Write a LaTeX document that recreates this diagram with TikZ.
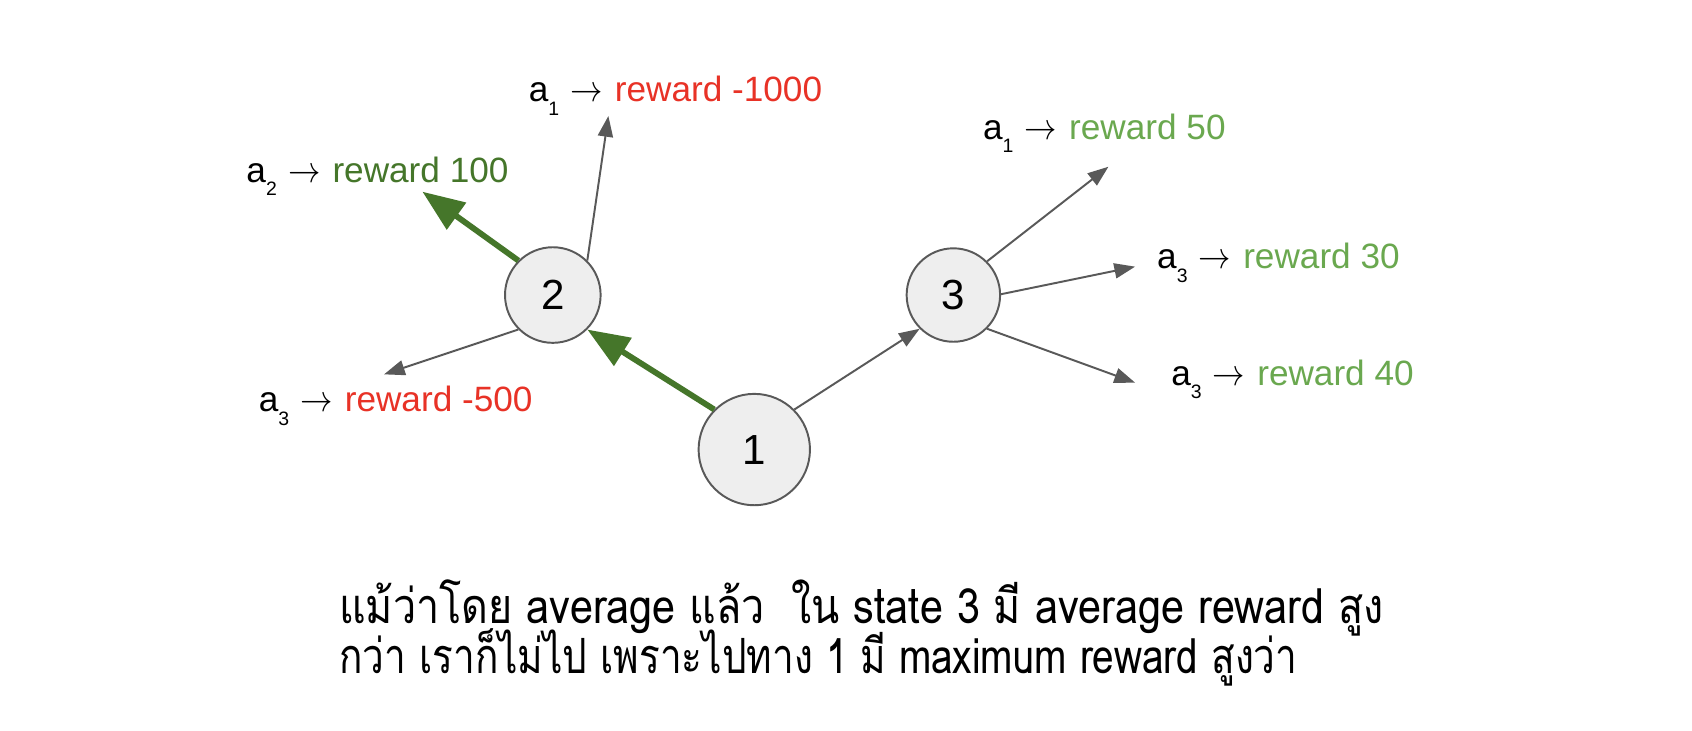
\documentclass[tikz,border=0pt]{standalone}
\usepackage{fontspec}
\setmainfont{Liberation Sans}
\newfontfamily\thaifont[Script=Thai]{Loma}
\usetikzlibrary{shapes.geometric,arrows.meta}
\definecolor{edgegray}{RGB}{89,89,89}
\definecolor{nodefill}{RGB}{238,238,238}
\definecolor{rwred}{RGB}{232,50,38}
\definecolor{rwdark}{RGB}{69,118,42}
\definecolor{rwlight}{RGB}{106,168,79}
\newcommand{\lblfont}{\fontsize{16.3pt}{19pt}\selectfont}
\newcommand{\sbs}[1]{\raisebox{-6.2pt}{\fontsize{9pt}{9pt}\selectfont #1}}
\newcommand{\rarr}{\hspace{5.2pt}\resizebox{15pt}{\height}{$\rightarrow$}\hspace{5.6pt}}
\tikzset{
  stnode/.style={circle, draw=edgegray, fill=nodefill, line width=0.9pt, inner sep=0pt,
    font=\fontsize{19.5pt}{22pt}\selectfont},
  thinarr/.style={draw=edgegray, line width=0.9pt, -{Triangle[length=9.6pt,width=7pt]}},
  thickarr/.style={draw=rwdark, line width=2.7pt, -{Triangle[length=19.5pt,width=14.8pt]}},
  lbl/.style={anchor=base west, inner sep=0pt, font=\lblfont},
  thailine/.style={anchor=base west, inner sep=0pt}
}
\begin{document}
\begin{tikzpicture}[x=0.5pt,y=-0.5pt]
\fill[white] (0,0) rectangle (1568,677);
\useasboundingbox (0,0) rectangle (1568,677);

% state nodes
\node[stnode, minimum size=51.6pt] (n1) at (699,416.6) {1};
\node[stnode, minimum size=44.3pt] (n2) at (512.3,273.4) {2};
\node[stnode, minimum size=43.3pt] (n3) at (883.5,273.4) {3};

% arrow tips
\coordinate (t21) at (563.8,107.5);
\coordinate (t22) at (391.4,177.6);
\coordinate (t23) at (355.9,346.9);
\coordinate (t31) at (1027.2,154.5);
\coordinate (t32) at (1051.9,247.1);
\coordinate (t33) at (1051.9,354.6);

% connectors
\draw[thickarr] (n1.135) -- (n2.-45);
\draw[thickarr] (n2.135) -- (t22);
\draw[thinarr] (n2.45) -- (t21);
\draw[thinarr] (n2.225) -- (t23);
\draw[thinarr] (n1.45) -- (n3.225);
\draw[thinarr] (n3.45) -- (t31);
\draw[thinarr] (n3.1) -- (t32);
\draw[thinarr] (n3.-45) -- (t33);

% labels
\node[lbl] (l21) at (489.7,94.2) {a\sbs{1}\rarr{\color{rwred}reward -1000}};
\node[lbl] (l22) at (228,169) {a\sbs{2}\rarr{\color{rwdark}reward 100}};
\node[lbl] (l23) at (239.4,381.5) {a\sbs{3}\rarr{\color{rwred}reward -500}};
\node[lbl] (l31) at (910.7,129.1) {a\sbs{1}\rarr{\color{rwlight}reward 50}};
\node[lbl] (l32) at (1072,249) {a\sbs{3}\rarr{\color{rwlight}reward 30}};
\node[lbl] (l33) at (1085,357) {a\sbs{3}\rarr{\color{rwlight}reward 40}};

% caption
\node[thailine] (c1) at (314,577.7) {\resizebox{484pt}{\height}{\thaifont\fontsize{22.5pt}{26pt}\selectfont แม้ว่าโดย average แล้ว\hspace{0.3em} ใน state 3 มี average reward สูง}};
\node[thailine] (c2) at (314,624) {\resizebox{444pt}{\height}{\thaifont\fontsize{22.5pt}{26pt}\selectfont กว่า เราก็ไม่ไป เพราะไปทาง 1 มี maximum reward สูงว่า}};
\end{tikzpicture}
\end{document}
